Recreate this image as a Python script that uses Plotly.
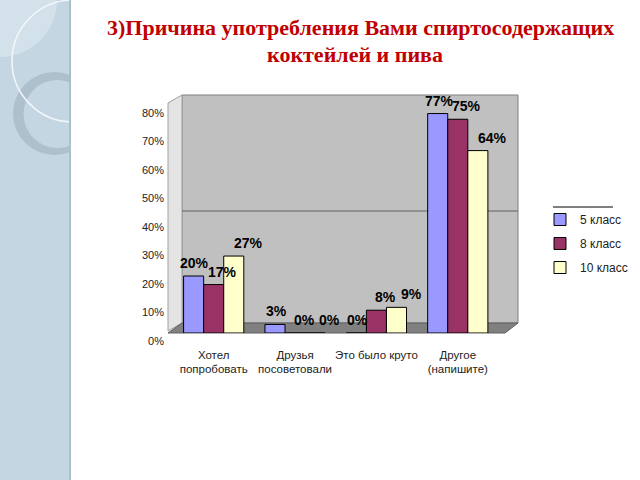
import plotly.graph_objects as go

categories = ["Хотел<br>попробовать", "Друзья<br>посоветовали", "Это было круто", "Другое<br>(напишите)"]
series_names = ["5 класс", "8 класс", "10 класс"]
grade5 = [20, 3, 0, 77]
grade8 = [17, 0, 8, 75]
grade10 = [27, 0, 9, 64]
y_ticks = [0, 10, 20, 30, 40, 50, 60, 70, 80]
y_tick_labels = [f"{v}%" for v in y_ticks]

colors = ["#9999ff", "#993366", "#ffffcc"]

# plot area in page pixels
L, R, T, B = 173, 509, 105, 333


def px(x):
    return (x - L) / (R - L)


def py(y):
    return (B - y) / (B - T)


fig = go.Figure()
for name, vals, col in zip(series_names, [grade5, grade8, grade10], colors):
    fig.add_trace(go.Bar(
        x=categories, y=vals, name=name, legendgroup=name,
        marker=dict(color=col, line=dict(color="#000000", width=1)),
        cliponaxis=False, hoverinfo="skip",
    ))

# value labels, nudged right like the 3d excel labels
bar_w = (R - L) / 4 * 0.74 / 3
label_shift = [2, 9, 14]
annotations = []
for i, vals in enumerate([grade5, grade8, grade10]):
    for cat, v in zip(categories, vals):
        annotations.append(dict(
            x=cat, y=v, text=f"{v}%", showarrow=False, yanchor="bottom",
            xshift=(i - 1) * bar_w + label_shift[i], yshift=3,
            font=dict(family="Liberation Sans, Arial", size=14, color="#000000", weight="bold"),
        ))

title_font = dict(family="Liberation Serif, Times New Roman", size=22, color="#c00000")
annotations.append(dict(
    text="<b>3)Причина употребления Вами спиртосодержащих</b>",
    xref="paper", yref="paper", x=px(360), y=py(28), xanchor="center", yanchor="middle",
    showarrow=False, font=title_font,
))
annotations.append(dict(
    text="<b>коктейлей и пива</b>",
    xref="paper", yref="paper", x=px(355), y=py(54), xanchor="center", yanchor="middle",
    showarrow=False, font=title_font,
))


def circle(cx, cy, r, fill=None, line=None):
    return dict(type="circle", xref="paper", yref="paper", layer="below",
                x0=px(cx - r), x1=px(cx + r), y0=py(cy + r), y1=py(cy - r),
                fillcolor=fill or "rgba(0,0,0,0)",
                line=line or dict(width=0))


# decorative pieces: slide strip, 3d wall/floor, legend rule
shapes = [
    dict(type="rect", xref="paper", yref="paper", layer="below",
         x0=px(0), x1=px(70), y0=py(480), y1=py(0),
         fillcolor="#c3d6e2", line=dict(width=0)),
    circle(0, 0, 57, fill="#d3e1ea"),
    circle(54.5, 113.5, 41.5, fill="#adc0cc"),
    circle(57.5, 114, 34, fill="#c3d6e2"),
    circle(73, 61, 61, line=dict(color="#f2f7fa", width=1.5)),
    dict(type="rect", xref="paper", yref="paper", layer="below",
         x0=px(70), x1=px(166), y0=py(220), y1=py(0),
         fillcolor="#ffffff", line=dict(width=0)),
    dict(type="rect", xref="paper", yref="paper", layer="below",
         x0=px(69), x1=px(71), y0=py(480), y1=py(0),
         fillcolor="#a9bfcc", line=dict(width=0)),
    dict(type="path", xref="paper", yref="paper", layer="below",
         path=f"M {px(182)} {py(323)} L {px(518)} {py(323)} L {px(518)} {py(95)} L {px(182)} {py(95)} Z",
         fillcolor="#c0c0c0", line=dict(color="#808080", width=1)),
    dict(type="path", xref="paper", yref="paper", layer="below",
         path=f"M {px(168)} {py(331)} L {px(168)} {py(103)} L {px(182)} {py(95)} L {px(182)} {py(323)} Z",
         fillcolor="#e4e4e4", line=dict(color="#a0a0a0", width=1)),
    dict(type="path", xref="paper", yref="paper", layer="below",
         path=f"M {px(168)} {py(333)} L {px(505)} {py(333)} L {px(518)} {py(323)} L {px(182)} {py(323)} Z",
         fillcolor="#808080", line=dict(color="#606060", width=1)),
    dict(type="line", xref="paper", yref="paper", layer="below",
         x0=px(182), x1=px(518), y0=py(211), y1=py(211), line=dict(color="#606060", width=1)),
    dict(type="line", xref="paper", yref="paper",
         x0=px(553), x1=px(613), y0=py(207), y1=py(207), line=dict(color="#000000", width=1)),
]

fig.update_layout(
    width=640, height=480,
    margin=dict(l=L, r=640 - R, t=T, b=480 - B, autoexpand=False),
    paper_bgcolor="#ffffff", plot_bgcolor="rgba(0,0,0,0)",
    barmode="group", bargap=0.26, bargroupgap=0,
    font=dict(family="Liberation Sans, Arial", size=11, color="#222222"),
    showlegend=True,
    legend=dict(x=px(540), y=py(205), xanchor="left", yanchor="top", itemwidth=30,
                font=dict(size=12, color="#222222"), tracegroupgap=5,
                bgcolor="rgba(0,0,0,0)"),
    shapes=shapes,
    annotations=annotations,
)
fig.update_xaxes(showline=False, showgrid=False, ticks="", tickangle=0,
                 tickfont=dict(size=11.5), ticklabelstandoff=13)
fig.update_yaxes(range=[0, 80], tickvals=y_ticks, ticktext=y_tick_labels, showgrid=False,
                 zeroline=False, showline=False, ticklabelshift=8, ticklabelstandoff=8,
                 tickfont=dict(size=11))

fig.write_html("out.html", config={"displayModeBar": False},
               post_script="document.body.style.margin='0';")
